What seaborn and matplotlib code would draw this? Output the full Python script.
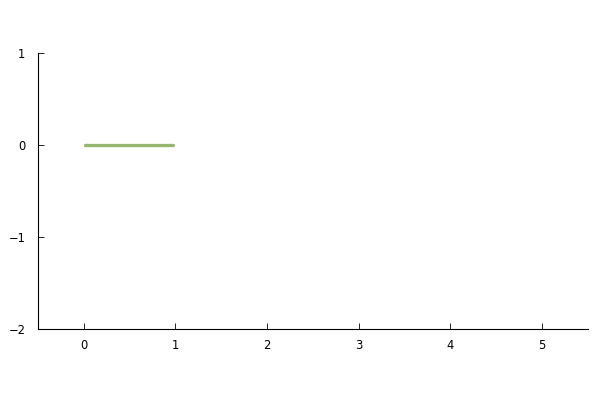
import matplotlib
matplotlib.use("Agg")
import matplotlib.pyplot as plt
import seaborn as sns
import pandas as pd

x_vals = [0.02, 0.97]
y_vals = [0.0, 0.0]
x_ticks = [0, 1, 2, 3, 4, 5]
y_ticks = [-2, -1, 0, 1]

sns.set_theme(style="white")
plt.rcParams['font.family'] = ['DejaVu Sans']

fig = plt.figure(figsize=(6, 4), dpi=100)
ax = fig.add_axes([0.063, 0.1775, 0.917, 0.69])
df = pd.DataFrame({"x": x_vals, "y": y_vals})
sns.lineplot(data=df, x="x", y="y", ax=ax, color="#97b66e", linewidth=2.4)

ax.set_xlim(-0.5, 5.5)
ax.set_ylim(-2, 1)
ax.set_xticks(x_ticks)
ax.set_yticks(y_ticks)
ax.set_xticklabels([str(v) for v in x_ticks])
ax.set_yticklabels([str(v).replace('-', '\u2212') for v in y_ticks])
ax.set_xlabel("")
ax.set_ylabel("")
for s in ["top", "right"]:
    ax.spines[s].set_visible(False)
for s in ["left", "bottom"]:
    ax.spines[s].set_color("black")
    ax.spines[s].set_linewidth(0.8)
ax.tick_params(axis="both", direction="in", length=4, width=0.6, colors="black",
               labelsize=8.3, left=True, bottom=True)
ax.tick_params(axis="y", pad=9)
ax.tick_params(axis="x", pad=7)
ax.grid(False)
fig.savefig("out.png", dpi=100)
